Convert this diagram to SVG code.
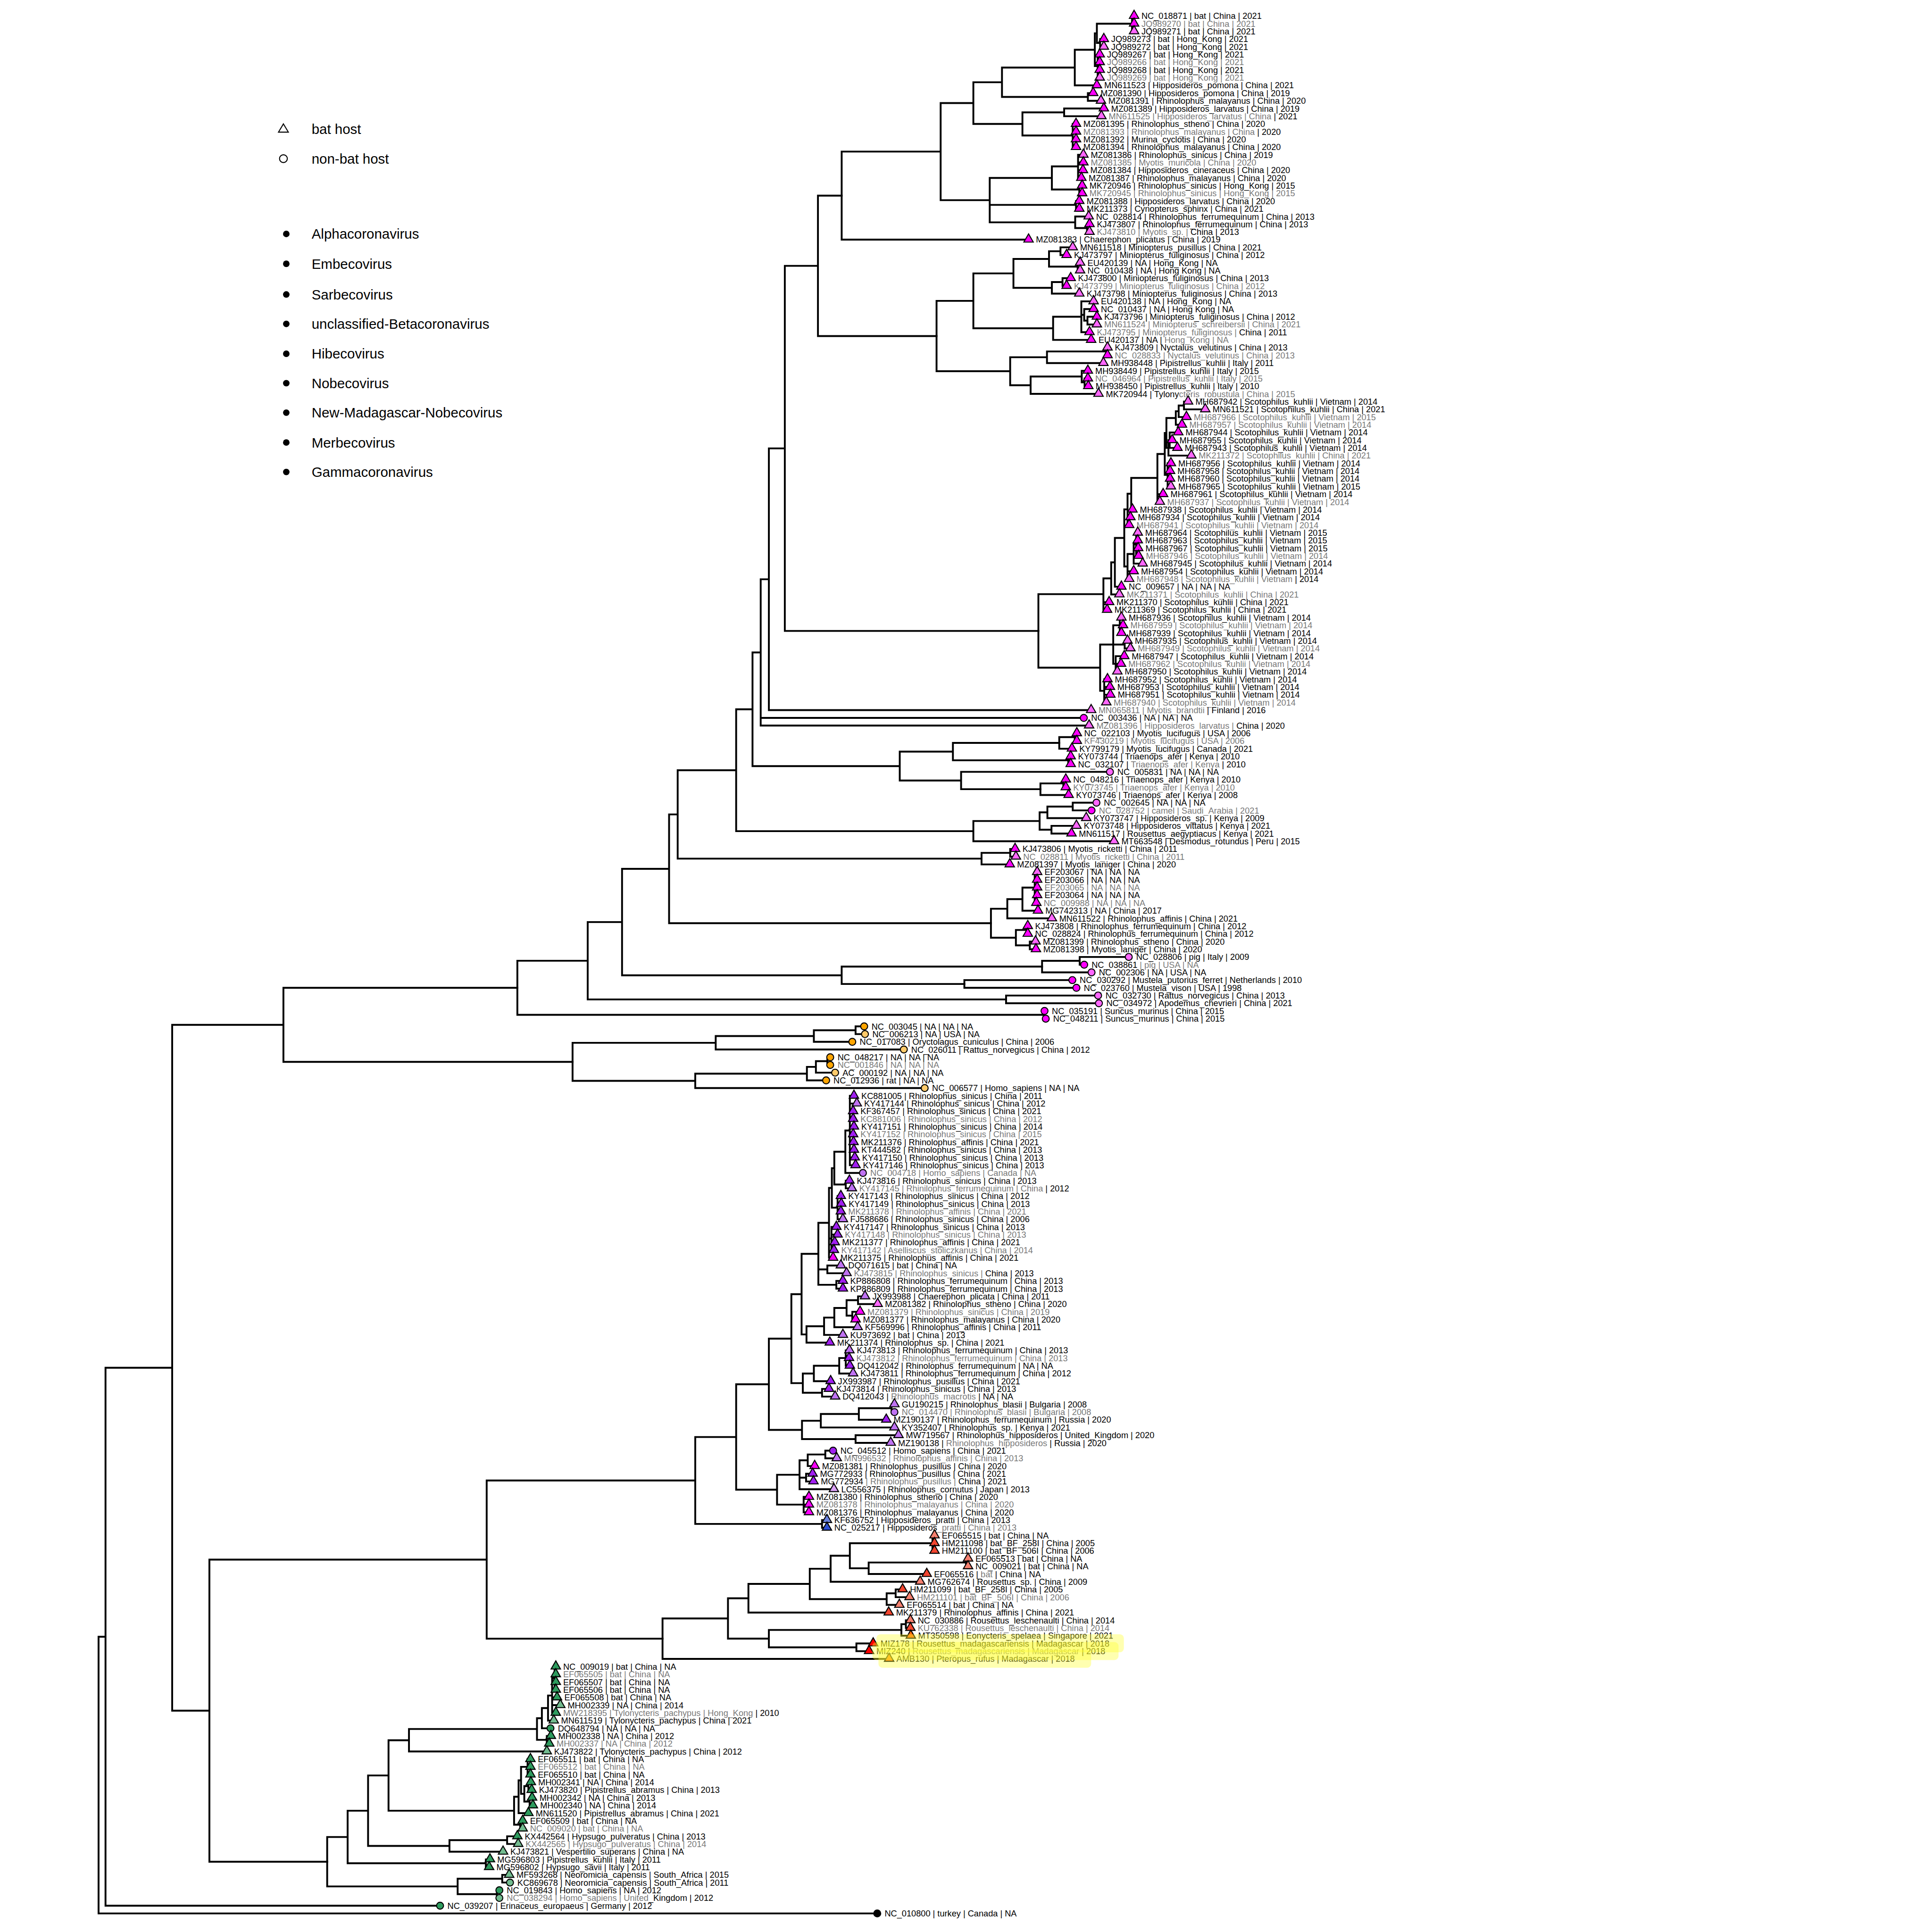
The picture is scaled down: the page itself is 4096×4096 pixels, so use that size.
<svg xmlns="http://www.w3.org/2000/svg" xmlns:xlink="http://www.w3.org/1999/xlink" width="4096" height="4096" viewBox="0 0 4096 4096">
<style>
.e{fill:none;stroke:#000;stroke-width:4.5;stroke-linecap:square}
.s{stroke:#000;stroke-width:2.5}
.a{fill:#f0f}.al{fill:#f6f}.b{fill:#a01ff0}.bl{fill:#bf72f2}.bx{fill:#d9a0f6}.o{fill:#ffa500}.ol{fill:#ffca6a}.h{fill:#2d4fd1}.hl{fill:#6a82dd}.r{fill:#f2452f}.rl{fill:#f5806f}.rr{fill:#f00}.ro{fill:#ff6a10}.d{fill:#2e9b5e}.dl{fill:#72bb8f}.k{fill:#000}
text{font-family:"Liberation Sans",Arial,sans-serif;font-size:21px;fill:#000}
.q,tspan.q{fill:#7a7a7a}
.lg text{font-size:34px}
.hi{fill:#ffff30;opacity:.38}
</style>
<defs>
<path id="T" d="M0,-14L11.5,6H-11.5Z"/>
<circle id="C" r="8.5"/>
</defs>
<rect width="4096" height="4096" fill="#fff"/>
<g transform="scale(0.86706)">
<g id="legend" class="lg">
<path d="M693,303L705,323H681Z" fill="none" stroke="#000" stroke-width="2.5"/>
<text x="762" y="328">bat host</text>
<circle cx="693" cy="388" r="9.5" fill="none" stroke="#000" stroke-width="2.5"/>
<text x="762" y="400">non-bat host</text>
<circle cx="700" cy="572" r="8"/><text x="762" y="584">Alphacoronavirus</text>
<circle cx="700" cy="645" r="8"/><text x="762" y="657">Embecovirus</text>
<circle cx="700" cy="720" r="8"/><text x="762" y="732">Sarbecovirus</text>
<circle cx="700" cy="792" r="8"/><text x="762" y="804">unclassified-Betacoronavirus</text>
<circle cx="700" cy="865" r="8"/><text x="762" y="877">Hibecovirus</text>
<circle cx="700" cy="937" r="8"/><text x="762" y="949">Nobecovirus</text>
<circle cx="700" cy="1009" r="8"/><text x="762" y="1021">New-Madagascar-Nobecovirus</text>
<circle cx="700" cy="1082" r="8"/><text x="762" y="1094">Merbecovirus</text>
<circle cx="700" cy="1154" r="8"/><text x="762" y="1166">Gammacoronavirus</text>
</g>
<g id="edges" class="e">
<path d="M2768 39V76.7M2768 39H2773M2768 57.9H2773M2768 76.7H2773M2690 95.6V114.4M2690 95.6H2699M2690 114.4H2699M2684 133.3V189.9M2684 133.3H2689M2684 152.2H2689M2684 171H2689M2684 189.9H2689M2682 57.9V105M2682 57.9H2768M2682 105H2690M2677 81.5V161.6M2677 81.5H2682M2677 161.6H2684M2628 121.6V208.7M2628 121.6H2677M2628 208.7H2682M2660 227.6V246.5M2660 227.6H2673M2660 246.5H2692M2602 265.3V284.2M2602 265.3H2699M2602 284.2H2693M2623 303V359.6M2623 303H2631M2623 321.9H2631M2623 340.8H2631M2623 359.6H2631M2636 378.5V435.1M2636 378.5H2649M2636 397.3H2649M2636 416.2H2649M2636 435.1H2644M2639 453.9V472.8M2639 453.9H2646M2639 472.8H2646M2572 406.8V463.4M2572 406.8H2636M2572 463.4H2639M2631 491.6V510.5M2631 491.6H2639M2631 510.5H2639M2658 548.2V567.1M2658 548.2H2664M2658 567.1H2664M2629 529.4V557.7M2629 529.4H2662M2629 557.7H2658M2450 165.2V237M2450 165.2H2628M2450 237H2660M2500 274.8V331.3M2500 274.8H2602M2500 331.3H2623M2380 201.1V303M2380 201.1H2450M2380 303H2500M2420 435.1V543.6M2420 435.1H2572M2420 501H2631M2420 543.6H2629M2300 252V489.4M2300 252H2380M2300 489.4H2420M2058 370.7V585.9M2058 370.7H2300M2058 585.9H2515"/>
<path d="M2593 604.8V623.7M2593 604.8H2623M2593 623.7H2608M2635 642.5V661.4M2635 642.5H2641M2635 661.4H2641M2565 614.3V652M2565 614.3H2593M2565 652H2635M2598 680.2V699.1M2598 680.2H2618M2598 699.1H2608M2572 689.7V718M2572 689.7H2598M2572 718H2639M2478 633.1V703.8M2478 633.1H2565M2478 703.8H2572M2659 774.5V793.4M2659 774.5H2682M2659 793.4H2682M2651 755.7V784M2651 755.7H2674M2651 784H2659M2644 736.8V812.3M2644 736.8H2674M2644 769.8H2651M2644 812.3H2664M2575 774.5V831.1M2575 774.5H2644M2575 831.1H2668M2706 850V868.8M2652 925.4V944.3M2652 925.4H2660M2652 944.3H2661M2645 906.6V934.9M2645 906.6H2660M2645 934.9H2652M2380 668.5V802.8M2380 668.5H2478M2380 802.8H2575M2560 859.4V887.7M2560 859.4H2706M2560 887.7H2698M2520 920.7V963.1M2520 920.7H2645M2520 963.1H2686M2470 873.5V941.9M2470 873.5H2560M2470 941.9H2520M2290 735.7V907.7M2290 735.7H2380M2290 907.7H2470"/>
<path d="M2895 982V1000.9M2895 982H2905M2895 1000.9H2947M2882 991.5V1019.7M2882 991.5H2895M2882 1019.7H2901M2875 1005.6V1038.6M2875 1005.6H2882M2875 1038.6H2890M2860 1057.4V1095.2M2860 1057.4H2881M2860 1076.3H2866M2860 1095.2H2879M2857 1076.3V1114M2857 1114H2913M2852 1022.1V1095.2M2852 1022.1H2875M2852 1095.2H2857M2855 1132.9V1189.5M2855 1132.9H2863M2855 1151.7H2861M2855 1170.6H2861M2855 1189.5H2863M2848 1058.7V1161.2M2848 1058.7H2852M2848 1161.2H2855M2830 1110V1227.2M2830 1110H2848M2830 1208.3H2844M2830 1227.2H2836M2766 1168.6V1246M2766 1168.6H2830M2766 1246H2769M2757 1207.3V1283.8M2757 1207.3H2766M2757 1264.9H2764M2757 1283.8H2761M2778 1302.6V1359.2M2778 1302.6H2782M2778 1321.5H2782M2778 1340.3H2783M2778 1359.2H2784M2772 1330.9V1378.1M2772 1330.9H2778M2772 1378.1H2794M2757 1354.5V1415.8M2757 1354.5H2772M2757 1396.9H2772M2757 1415.8H2761M2749 1245.5V1385.2M2749 1245.5H2757M2749 1385.2H2757M2726 1315.3V1434.6M2726 1315.3H2749M2726 1434.6H2742M2717 1375V1453.5M2717 1375H2726M2717 1453.5H2737M2698 1414.3V1491.2M2698 1414.3H2717M2698 1472.4H2712M2698 1491.2H2707M2738 1510.1V1547.8M2738 1510.1H2742M2738 1528.9H2746M2738 1547.8H2742M2750 1566.7V1585.5M2750 1566.7H2757M2750 1585.5H2764M2728 1604.4V1642.1M2728 1604.4H2749M2728 1623.2H2741M2728 1642.1H2732M2722 1528.9V1623.2M2722 1528.9H2738M2722 1576.1H2750M2722 1623.2H2728M2700 1661V1717.5M2700 1661H2708M2700 1679.8H2714M2700 1698.7H2715M2700 1717.5H2705M2690 1576V1689.2M2690 1576H2722M2690 1689.2H2700M2539 1452.8V1632.6M2539 1452.8H2698M2539 1632.6H2690"/>
<path d="M2628 1793V1811.8M2628 1793H2633M2628 1811.8H2633M2590 1802.4V1830.7M2590 1802.4H2628M2590 1830.7H2621M2612 1849.6V1868.4M2612 1849.6H2618M2612 1868.4H2618M2600 1906.1V1925M2600 1906.1H2606M2600 1925H2606M2544 1915.5V1943.9M2544 1915.5H2600M2544 1943.9H2613M2623 1962.7V1981.6M2623 1962.7H2681M2623 1981.6H2669M2561 1972.2V2000.4M2561 1972.2H2623M2561 2000.4H2656M2571 2019.3V2038.2M2571 2019.3H2632M2571 2038.2H2620M2542 1986.3V2028.7M2542 1986.3H2561M2542 2028.7H2571M2470 2075.9V2094.7M2470 2075.9H2482M2470 2094.7H2484M2530 2132.5V2207.9M2530 2132.5H2536M2530 2151.3H2536M2530 2170.2H2536M2530 2189H2536M2530 2207.9H2534M2500 2170.2V2226.8M2500 2170.2H2530M2500 2226.8H2538M2463 2198.5V2245.6M2463 2198.5H2500M2463 2245.6H2572M2510 2264.5V2283.3M2510 2264.5H2513M2510 2283.3H2513M2518 2302.2V2321.1M2518 2302.2H2532M2518 2321.1H2533M2484 2273.9V2311.6M2484 2273.9H2510M2484 2311.6H2518M2423 2222V2292.8M2423 2222H2463M2423 2292.8H2484M2640 2339.9V2358.8M2640 2339.9H2760M2640 2358.8H2651M2548 2349.4V2377.6M2548 2349.4H2640M2548 2377.6H2669M2358 2396.5V2415.4M2358 2396.5H2622M2358 2415.4H2632M2460 2434.2V2453.1M2460 2434.2H2685M2460 2453.1H2687M2552 2471.9V2490.8M2552 2471.9H2554M2552 2490.8H2557"/>
<path d="M2000 478.3V821.7M2000 478.3H2058M2000 821.7H2290M1919 650V1542.7M1919 650H2000M1919 1542.7H2539M1880 1096.4V1736.4M1880 1096.4H1919M1880 1736.4H2668M1860 1416.4V1774.1M1860 1416.4H1880M1860 1755.3H2650M1860 1774.1H2663M2330 1816.5V1859M2330 1816.5H2590M2330 1859H2612M2350 1887.3V1929.7M2350 1887.3H2714M2350 1929.7H2544M2200 1837.8V1908.5M2200 1837.8H2330M2200 1908.5H2350M1840 1595.3V1873.2M1840 1595.3H1860M1840 1873.2H2200M2380 2007.5V2057M2380 2007.5H2542M2380 2057H2724M1800 1734.3V2032.3M1800 1734.3H1840M1800 2032.3H2380M2400 2085.3V2113.6M2400 2085.3H2470M2400 2113.6H2469M1657 1883.3V2099.5M1657 1883.3H1800M1657 2099.5H2400M1636 1991.4V2257.4M1636 1991.4H1657M1636 2257.4H2423M2058 2363.5V2406M2058 2363.5H2548M2058 2406H2358M1521 2124.4V2384.8M1521 2124.4H1636M1521 2384.8H2058M1437 2254.6V2443.7M1437 2254.6H1521M1437 2443.7H2460M1265 2349.2V2481.4M1265 2349.2H1437M1265 2481.4H2552"/>
<path d="M2092 2509.7V2528.5M2092 2509.7H2113M2092 2528.5H2115M1990 2519.1V2547.4M1990 2519.1H2092M1990 2547.4H2084M2023 2585.1V2604M2023 2585.1H2030M2023 2604H2030M1995 2594.6V2622.8M1995 2594.6H2023M1995 2622.8H2042M1973 2608.7V2641.7M1973 2608.7H1995M1973 2641.7H2020M1750 2533.3V2566.2M1750 2533.3H1990M1750 2566.2H2210M1700 2625.2V2660.5M1700 2625.2H1973M1700 2660.5H2261M1400 2549.8V2642.9M1400 2549.8H1750M1400 2642.9H1700"/>
<path d="M2078 2679.4V2849.1M2078 2679.4H2088M2078 2698.3H2095M2078 2717.1H2086M2078 2736H2086M2078 2754.8H2088M2078 2773.7H2086M2078 2792.6H2087M2078 2811.4H2088M2078 2830.3H2090M2078 2849.1H2092M2067 2764.3V2868M2067 2764.3H2078M2067 2868H2110M2068 2886.9V2905.7M2068 2886.9H2077M2068 2905.7H2083M2040 2816.2V2896.3M2040 2816.2H2067M2040 2896.3H2068M2048 2924.6V2981.2M2048 2924.6H2056M2048 2943.4H2057M2048 2962.3H2056M2048 2981.2H2061M2034 2856.3V2952.9M2034 2856.3H2040M2034 2952.9H2048M2033 3000V3056.6M2033 3000H2045M2033 3018.9H2048M2033 3037.7H2041M2033 3056.6H2039M2027 2904.6V3075.5M2027 2904.6H2034M2027 3028.3H2033M2027 3075.5H2037M2023 3094.3V3113.2M2023 3094.3H2056M2023 3113.2H2070M2045 3132V3150.9M2045 3132H2061M2045 3150.9H2061M2001 2990V3141.5M2001 2990H2027M2001 3103.8H2023M2001 3141.5H2045M2098 3169.8V3188.6M2098 3169.8H2115M2098 3188.6H2146M2084 3207.5V3226.3M2084 3207.5H2103M2084 3226.3H2092M2070 3179.2V3216.9M2070 3179.2H2098M2070 3216.9H2084M2040 3198.1V3245.2M2040 3198.1H2070M2040 3245.2H2097M2015 3221.7V3264.1M2015 3221.7H2040M2015 3264.1H2061M1972 3242.9V3282.9M1972 3242.9H2015M1972 3282.9H2029M1960 3065.8V3262.9M1960 3065.8H2001M1960 3262.9H1972M2068 3301.8V3339.5M2068 3301.8H2077M2068 3320.6H2076M2068 3339.5H2078M2052 3320.6V3358.4M2052 3320.6H2068M2052 3358.4H2086M1990 3339.5V3377.2M1990 3339.5H2052M1990 3377.2H2031M2010 3396.1V3414.9M2010 3396.1H2027M2010 3414.9H2042M1963 3358.4V3405.5M1963 3358.4H1990M1963 3405.5H2010M1935 3164.4V3382M1935 3164.4H1960M1935 3382H1963M2180 3433.8V3452.7M2180 3433.8H2187M2180 3452.7H2187M2100 3443.3V3471.5M2100 3443.3H2180M2100 3471.5H2167M2007 3457.4V3490.4M2007 3457.4H2100M2007 3490.4H2187M2092 3509.2V3528.1M2092 3509.2H2197M2092 3528.1H2178M1961 3473.9V3518.7M1961 3473.9H2007M1961 3518.7H2092M2018 3547V3565.8M2018 3547H2037M2018 3565.8H2046M1975 3556.4V3584.7M1975 3556.4H2018M1975 3584.7H1992M1971 3603.5V3622.4M1971 3603.5H1987M1971 3622.4H1989M1955 3570.6V3641.3M1955 3570.6H1975M1955 3613H1971M1955 3641.3H2039M1965 3660.1V3697.8M1965 3660.1H1978M1965 3679H1978M1965 3697.8H1978M2010 3716.7V3735.6M2010 3716.7H2022M2010 3735.6H2022M1880 3273.2V3496.3M1880 3273.2H1935M1880 3496.3H1961M1900 3606V3679M1900 3606H1955M1900 3679H1965M1800 3384.8V3642.5M1800 3384.8H1880M1800 3642.5H1900M1700 3513.7V3726.2M1700 3513.7H1800M1700 3726.2H2010"/>
<path d="M2280 3754.4V3792.1M2280 3754.4H2285M2280 3773.3H2285M2280 3792.1H2285M2362 3811V3829.9M2362 3811H2367M2362 3829.9H2367M2124 3820.5V3848.7M2124 3820.5H2362M2124 3848.7H2266M2078 3773.3V3834.6M2078 3773.3H2280M2078 3834.6H2124M2031 3804V3867.6M2031 3804H2078M2031 3867.6H2250M2190 3886.4V3905.3M2190 3886.4H2207M2190 3905.3H2224M2168 3895.9V3924.2M2168 3895.9H2190M2168 3924.2H2199M1980 3835.8V3910M1980 3835.8H2031M1980 3910H2168M2215 3961.9V3980.7M2215 3961.9H2226M2215 3980.7H2226M2204 3971.3V3999.6M2204 3971.3H2215M2204 3999.6H2227M2094 4018.5V4037.3M2094 4018.5H2135M2094 4037.3H2125M1830 3872.9V3943M1830 3872.9H1980M1830 3943H2173M1880 3985.5V4027.9M1880 3985.5H2204M1880 4027.9H2094M1780 3908V4006.7M1780 3908H1830M1780 4006.7H1880M1620 3957.4V4056.2M1620 3957.4H1780M1620 4056.2H2174"/>
<path d="M1356 4075V4131.6M1356 4075H1359M1356 4131.6H1359M1350 4103.3V4188.2M1350 4103.3H1356M1350 4150.5H1362M1350 4169.3H1370M1350 4188.2H1359M1340 4145.8V4207.1M1340 4145.8H1350M1340 4207.1H1354M1325 4176.5V4225.9M1325 4176.5H1340M1325 4225.9H1346M1337 4244.8V4263.6M1337 4244.8H1347M1337 4263.6H1343M1313 4201.2V4254.2M1313 4201.2H1325M1313 4254.2H1337M1290 4301.4V4339.1M1290 4301.4H1297M1290 4320.2H1297M1290 4339.1H1297M1292 4357.9V4376.8M1292 4357.9H1298M1292 4376.8H1300M1295 4395.7V4414.5M1295 4395.7H1301M1295 4414.5H1303M1282 4367.4V4405.1M1282 4367.4H1292M1282 4405.1H1295M1274 4320.2V4386.2M1274 4320.2H1290M1274 4386.2H1282M1268 4353.2V4433.4M1268 4353.2H1274M1268 4433.4H1292M1272 4452.2V4471.1M1272 4452.2H1278M1272 4471.1H1278M1257 4393.3V4461.7M1257 4393.3H1268M1257 4461.7H1272M1240 4490V4508.8M1240 4490H1265M1240 4508.8H1267M1099 4499.4V4527.7M1099 4499.4H1240M1099 4527.7H1230M1188 4546.5V4565.4M1188 4546.5H1198M1188 4565.4H1196M1228 4584.3V4603.1M1228 4584.3H1245M1228 4603.1H1247M1215 4622V4640.8M1215 4622H1221M1215 4640.8H1221M1119 4593.7V4631.4M1119 4593.7H1228M1119 4631.4H1215M1000 4227.7V4282.5M1000 4227.7H1313M1000 4282.5H1337M950 4255.1V4427.5M950 4255.1H1000M950 4427.5H1257M900 4341.3V4513.6M900 4341.3H950M900 4513.6H1099M850 4427.5V4556M850 4427.5H900M850 4556H1188M800 4491.8V4612.6M800 4491.8H850M800 4612.6H1119"/>
<path d="M1190 3620V4006.8M1190 3620H1700M1190 4006.8H1620M512 3813.4V4552.2M512 3813.4H1190M512 4552.2H800M693 2415.3V2596.4M693 2415.3H1265M693 2596.4H1400M421 2505.9V4182.8M421 2505.9H693M421 4182.8H512M258 3344.4V4659.7M258 3344.4H421M258 4659.7H1076M241 4002V4678.6M241 4002H258M241 4678.6H2145"/>
</g>
<g id="tips">
<g id="t0"><use href="#T" x="2773" y="39" class="s a"/><text x="2791" y="46.5">NC_018871 | bat | China | 2021</text></g>
<g id="t1"><use href="#T" x="2773" y="57.9" class="s a"/><text x="2791" y="65.4" class="q">JQ989270 | bat | China | 2021</text></g>
<g id="t2"><use href="#T" x="2773" y="76.7" class="s al"/><text x="2791" y="84.2">JQ989271 | bat | China | 2021</text></g>
<g id="t3"><use href="#T" x="2699" y="95.6" class="s a"/><text x="2717" y="103.1">JQ989273 | bat | Hong_Kong | 2021</text></g>
<g id="t4"><use href="#T" x="2699" y="114.4" class="s al"/><text x="2717" y="121.9">JQ989272 | bat | Hong_Kong | 2021</text></g>
<g id="t5"><use href="#T" x="2689" y="133.3" class="s a"/><text x="2707" y="140.8">JQ989267 | bat | Hong_Kong | 2021</text></g>
<g id="t6"><use href="#T" x="2689" y="152.2" class="s a"/><text x="2707" y="159.7" class="q">JQ989266 | bat | Hong_Kong | 2021</text></g>
<g id="t7"><use href="#T" x="2689" y="171" class="s a"/><text x="2707" y="178.5">JQ989268 | bat | Hong_Kong | 2021</text></g>
<g id="t8"><use href="#T" x="2689" y="189.9" class="s al"/><text x="2707" y="197.4" class="q">JQ989269 | bat | Hong_Kong | 2021</text></g>
<g id="t9"><use href="#T" x="2682" y="208.7" class="s a"/><text x="2700" y="216.2">MN611523 | Hipposideros_pomona | China | 2021</text></g>
<g id="t10"><use href="#T" x="2673" y="227.6" class="s a"/><text x="2691" y="235.1">MZ081390 | Hipposideros_pomona | China | 2019</text></g>
<g id="t11"><use href="#T" x="2692" y="246.5" class="s al"/><text x="2710" y="254">MZ081391 | Rhinolophus_malayanus | China | 2020</text></g>
<g id="t12"><use href="#T" x="2699" y="265.3" class="s a"/><text x="2717" y="272.8">MZ081389 | Hipposideros_larvatus | China | 2019</text></g>
<g id="t13"><use href="#T" x="2693" y="284.2" class="s al"/><text x="2711" y="291.7"><tspan class="q">MN611525 | Hipposideros_larvatus | China</tspan> | 2021</text></g>
<g id="t14"><use href="#T" x="2631" y="303" class="s a"/><text x="2649" y="310.5">MZ081395 | Rhinolophus_stheno | China | 2020</text></g>
<g id="t15"><use href="#T" x="2631" y="321.9" class="s a"/><text x="2649" y="329.4"><tspan class="q">MZ081393 | Rhinolophus_malayanus | China</tspan> | 2020</text></g>
<g id="t16"><use href="#T" x="2631" y="340.8" class="s a"/><text x="2649" y="348.3">MZ081392 | Murina_cyclotis | China | 2020</text></g>
<g id="t17"><use href="#T" x="2631" y="359.6" class="s a"/><text x="2649" y="367.1">MZ081394 | Rhinolophus_malayanus | China | 2020</text></g>
<g id="t18"><use href="#T" x="2649" y="378.5" class="s al"/><text x="2667" y="386">MZ081386 | Rhinolophus_sinicus | China | 2019</text></g>
<g id="t19"><use href="#T" x="2649" y="397.3" class="s a"/><text x="2667" y="404.8" class="q">MZ081385 | Myotis_muricola | China | 2020</text></g>
<g id="t20"><use href="#T" x="2648" y="416.2" class="s a"/><text x="2666" y="423.7">MZ081384 | Hipposideros_cineraceus | China | 2020</text></g>
<g id="t21"><use href="#T" x="2644" y="435.1" class="s a"/><text x="2662" y="442.6">MZ081387 | Rhinolophus_malayanus | China | 2020</text></g>
<g id="t22"><use href="#T" x="2646" y="453.9" class="s a"/><text x="2664" y="461.4">MK720946 | Rhinolophus_sinicus | Hong_Kong | 2015</text></g>
<g id="t23"><use href="#T" x="2646" y="472.8" class="s a"/><text x="2664" y="480.3" class="q">MK720945 | Rhinolophus_sinicus | Hong_Kong | 2015</text></g>
<g id="t24"><use href="#T" x="2639" y="491.6" class="s a"/><text x="2657" y="499.1">MZ081388 | Hipposideros_larvatus | China | 2020</text></g>
<g id="t25"><use href="#T" x="2639" y="510.5" class="s a"/><text x="2657" y="518">MK211373 | Cynopterus_sphinx | China | 2021</text></g>
<g id="t26"><use href="#T" x="2662" y="529.4" class="s al"/><text x="2680" y="536.9">NC_028814 | Rhinolophus_ferrumequinum | China | 2013</text></g>
<g id="t27"><use href="#T" x="2664" y="548.2" class="s a"/><text x="2682" y="555.7">KJ473807 | Rhinolophus_ferrumequinum | China | 2013</text></g>
<g id="t28"><use href="#T" x="2664" y="567.1" class="s al"/><text x="2682" y="574.6"><tspan class="q">KJ473810 | Myotis_sp. |</tspan> China | 2013</text></g>
<g id="t29"><use href="#T" x="2515" y="585.9" class="s a"/><text x="2533" y="593.4">MZ081383 | Chaerephon_plicatus | China | 2019</text></g>
<g id="t30"><use href="#T" x="2623" y="604.8" class="s al"/><text x="2641" y="612.3">MN611518 | Miniopterus_pusillus | China | 2021</text></g>
<g id="t31"><use href="#T" x="2608" y="623.7" class="s a"/><text x="2626" y="631.2">KJ473797 | Miniopterus_fuliginosus | China | 2012</text></g>
<g id="t32"><use href="#T" x="2641" y="642.5" class="s al"/><text x="2659" y="650">EU420139 | NA | Hong_Kong | NA</text></g>
<g id="t33"><use href="#T" x="2641" y="661.4" class="s al"/><text x="2659" y="668.9">NC_010438 | NA | Hong Kong | NA</text></g>
<g id="t34"><use href="#T" x="2618" y="680.2" class="s a"/><text x="2636" y="687.7">KJ473800 | Miniopterus_fuliginosus | China | 2013</text></g>
<g id="t35"><use href="#T" x="2608" y="699.1" class="s a"/><text x="2626" y="706.6" class="q">KJ473799 | Miniopterus_fuliginosus | China | 2012</text></g>
<g id="t36"><use href="#T" x="2639" y="718" class="s al"/><text x="2657" y="725.5">KJ473798 | Miniopterus_fuliginosus | China | 2013</text></g>
<g id="t37"><use href="#T" x="2674" y="736.8" class="s al"/><text x="2692" y="744.3">EU420138 | NA | Hong_Kong | NA</text></g>
<g id="t38"><use href="#T" x="2674" y="755.7" class="s a"/><text x="2692" y="763.2">NC_010437 | NA | Hong Kong | NA</text></g>
<g id="t39"><use href="#T" x="2682" y="774.5" class="s a"/><text x="2700" y="782">KJ473796 | Miniopterus_fuliginosus | China | 2012</text></g>
<g id="t40"><use href="#T" x="2682" y="793.4" class="s al"/><text x="2700" y="800.9" class="q">MN611524 | Miniopterus_schreibersii | China | 2021</text></g>
<g id="t41"><use href="#T" x="2664" y="812.3" class="s a"/><text x="2682" y="819.8"><tspan class="q">KJ473795 | Miniopterus_fuliginosus |</tspan> China | 2011</text></g>
<g id="t42"><use href="#T" x="2668" y="831.1" class="s a"/><text x="2686" y="838.6">EU420137 | NA | <tspan class="q">Hong_Kong | NA</tspan></text></g>
<g id="t43"><use href="#T" x="2708" y="850" class="s al"/><text x="2726" y="857.5">KJ473809 | Nyctalus_velutinus | China | 2013</text></g>
<g id="t44"><use href="#T" x="2708" y="868.8" class="s a"/><text x="2726" y="876.3" class="q">NC_028833 | Nyctalus_velutinus | China | 2013</text></g>
<g id="t45"><use href="#T" x="2698" y="887.7" class="s al"/><text x="2716" y="895.2">MH938448 | Pipistrellus_kuhlii | Italy | 2011</text></g>
<g id="t46"><use href="#T" x="2660" y="906.6" class="s a"/><text x="2678" y="914.1">MH938449 | Pipistrellus_kuhlii | Italy | 2015</text></g>
<g id="t47"><use href="#T" x="2660" y="925.4" class="s a"/><text x="2678" y="932.9" class="q">NC_046964 | Pipistrellus_kuhlii | Italy | 2015</text></g>
<g id="t48"><use href="#T" x="2661" y="944.3" class="s a"/><text x="2679" y="951.8">MH938450 | Pipistrellus_kuhlii | Italy | 2010</text></g>
<g id="t49"><use href="#T" x="2686" y="963.1" class="s al"/><text x="2704" y="970.6">MK720944 | Tylony<tspan class="q">cteris_robustula | China | 2015</tspan></text></g>
<g id="t50"><use href="#T" x="2905" y="982" class="s al"/><text x="2923" y="989.5">MH687942 | Scotophilus_kuhlii | Vietnam | 2014</text></g>
<g id="t51"><use href="#T" x="2947" y="1000.9" class="s al"/><text x="2965" y="1008.4">MN611521 | Scotophilus_kuhlii | China | 2021</text></g>
<g id="t52"><use href="#T" x="2901" y="1019.7" class="s a"/><text x="2919" y="1027.2" class="q">MH687966 | Scotophilus_kuhlii | Vietnam | 2015</text></g>
<g id="t53"><use href="#T" x="2890" y="1038.6" class="s a"/><text x="2908" y="1046.1" class="q">MH687957 | Scotophilus_kuhlii | Vietnam | 2014</text></g>
<g id="t54"><use href="#T" x="2881" y="1057.4" class="s a"/><text x="2899" y="1064.9">MH687944 | Scotophilus_kuhlii | Vietnam | 2014</text></g>
<g id="t55"><use href="#T" x="2866" y="1076.3" class="s a"/><text x="2884" y="1083.8">MH687955 | Scotophilus_kuhlii | Vietnam | 2014</text></g>
<g id="t56"><use href="#T" x="2879" y="1095.2" class="s a"/><text x="2897" y="1102.7">MH687943 | Scotophilus_kuhlii | Vietnam | 2014</text></g>
<g id="t57"><use href="#T" x="2913" y="1114" class="s al"/><text x="2931" y="1121.5" class="q">MK211372 | Scotophilus_kuhlii | China | 2021</text></g>
<g id="t58"><use href="#T" x="2863" y="1132.9" class="s a"/><text x="2881" y="1140.4">MH687956 | Scotophilus_kuhlii | Vietnam | 2014</text></g>
<g id="t59"><use href="#T" x="2861" y="1151.7" class="s a"/><text x="2879" y="1159.2">MH687958 | Scotophilus_kuhlii | Vietnam | 2014</text></g>
<g id="t60"><use href="#T" x="2861" y="1170.6" class="s a"/><text x="2879" y="1178.1">MH687960 | Scotophilus_kuhlii | Vietnam | 2014</text></g>
<g id="t61"><use href="#T" x="2863" y="1189.5" class="s al"/><text x="2881" y="1197">MH687965 | Scotophilus_kuhlii | Vietnam | 2015</text></g>
<g id="t62"><use href="#T" x="2844" y="1208.3" class="s a"/><text x="2862" y="1215.8">MH687961 | Scotophilus_kuhlii | Vietnam | 2014</text></g>
<g id="t63"><use href="#T" x="2836" y="1227.2" class="s al"/><text x="2854" y="1234.7" class="q">MH687937 | Scotophilus_kuhlii | Vietnam | 2014</text></g>
<g id="t64"><use href="#T" x="2769" y="1246" class="s a"/><text x="2787" y="1253.5">MH687938 | Scotophilus_kuhlii | Vietnam | 2014</text></g>
<g id="t65"><use href="#T" x="2764" y="1264.9" class="s a"/><text x="2782" y="1272.4">MH687934 | Scotophilus_kuhlii | Vietnam | 2014</text></g>
<g id="t66"><use href="#T" x="2761" y="1283.8" class="s a"/><text x="2779" y="1291.3" class="q">MH687941 | Scotophilus_kuhlii | Vietnam | 2014</text></g>
<g id="t67"><use href="#T" x="2782" y="1302.6" class="s al"/><text x="2800" y="1310.1">MH687964 | Scotophilus_kuhlii | Vietnam | 2015</text></g>
<g id="t68"><use href="#T" x="2782" y="1321.5" class="s a"/><text x="2800" y="1329">MH687963 | Scotophilus_kuhlii | Vietnam | 2015</text></g>
<g id="t69"><use href="#T" x="2783" y="1340.3" class="s a"/><text x="2801" y="1347.8">MH687967 | Scotophilus_kuhlii | Vietnam | 2015</text></g>
<g id="t70"><use href="#T" x="2784" y="1359.2" class="s a"/><text x="2802" y="1366.7" class="q">MH687946 | Scotophilus_kuhlii | Vietnam | 2014</text></g>
<g id="t71"><use href="#T" x="2794" y="1378.1" class="s al"/><text x="2812" y="1385.6">MH687945 | Scotophilus_kuhlii | Vietnam | 2014</text></g>
<g id="t72"><use href="#T" x="2772" y="1396.9" class="s a"/><text x="2790" y="1404.4">MH687954 | Scotophilus_kuhlii | Vietnam | 2014</text></g>
<g id="t73"><use href="#T" x="2761" y="1415.8" class="s al"/><text x="2779" y="1423.3"><tspan class="q">MH687948 | Scotophilus_kuhlii | Vietnam</tspan> | 2014</text></g>
<g id="t74"><use href="#T" x="2742" y="1434.6" class="s a"/><text x="2760" y="1442.1">NC_009657 | NA | NA | NA</text></g>
<g id="t75"><use href="#T" x="2737" y="1453.5" class="s al"/><text x="2755" y="1461" class="q">MK211371 | Scotophilus_kuhlii | China | 2021</text></g>
<g id="t76"><use href="#T" x="2712" y="1472.4" class="s a"/><text x="2730" y="1479.9">MK211370 | Scotophilus_kuhlii | China | 2021</text></g>
<g id="t77"><use href="#T" x="2707" y="1491.2" class="s a"/><text x="2725" y="1498.7">MK211369 | Scotophilus_kuhlii | China | 2021</text></g>
<g id="t78"><use href="#T" x="2742" y="1510.1" class="s al"/><text x="2760" y="1517.6">MH687936 | Scotophilus_kuhlii | Vietnam | 2014</text></g>
<g id="t79"><use href="#T" x="2746" y="1528.9" class="s a"/><text x="2764" y="1536.4" class="q">MH687959 | Scotophilus_kuhlii | Vietnam | 2014</text></g>
<g id="t80"><use href="#T" x="2742" y="1547.8" class="s a"/><text x="2760" y="1555.3">MH687939 | Scotophilus_kuhlii | Vietnam | 2014</text></g>
<g id="t81"><use href="#T" x="2757" y="1566.7" class="s al"/><text x="2775" y="1574.2">MH687935 | Scotophilus_kuhlii | Vietnam | 2014</text></g>
<g id="t82"><use href="#T" x="2764" y="1585.5" class="s al"/><text x="2782" y="1593" class="q">MH687949 | Scotophilus_kuhlii | Vietnam | 2014</text></g>
<g id="t83"><use href="#T" x="2749" y="1604.4" class="s a"/><text x="2767" y="1611.9">MH687947 | Scotophilus_kuhlii | Vietnam | 2014</text></g>
<g id="t84"><use href="#T" x="2741" y="1623.2" class="s a"/><text x="2759" y="1630.7" class="q">MH687962 | Scotophilus_kuhlii | Vietnam | 2014</text></g>
<g id="t85"><use href="#T" x="2732" y="1642.1" class="s al"/><text x="2750" y="1649.6">MH687950 | Scotophilus_kuhlii | Vietnam | 2014</text></g>
<g id="t86"><use href="#T" x="2708" y="1661" class="s a"/><text x="2726" y="1668.5">MH687952 | Scotophilus_kuhlii | Vietnam | 2014</text></g>
<g id="t87"><use href="#T" x="2714" y="1679.8" class="s a"/><text x="2732" y="1687.3">MH687953 | Scotophilus_kuhlii | Vietnam | 2014</text></g>
<g id="t88"><use href="#T" x="2715" y="1698.7" class="s a"/><text x="2733" y="1706.2">MH687951 | Scotophilus_kuhlii | Vietnam | 2014</text></g>
<g id="t89"><use href="#T" x="2705" y="1717.5" class="s al"/><text x="2723" y="1725" class="q">MH687940 | Scotophilus_kuhlii | Vietnam | 2014</text></g>
<g id="t90"><use href="#T" x="2668" y="1736.4" class="s al"/><text x="2686" y="1743.9"><tspan class="q">MN065811 | Myotis_brandtii</tspan> | Finland | 2016</text></g>
<g id="t91"><use href="#C" x="2650" y="1755.3" class="s a"/><text x="2668" y="1762.8">NC_003436 | NA | NA | NA</text></g>
<g id="t92"><use href="#T" x="2663" y="1774.1" class="s al"/><text x="2681" y="1781.6"><tspan class="q">MZ081396 | Hipposideros_larvatus |</tspan> China | 2020</text></g>
<g id="t93"><use href="#T" x="2633" y="1793" class="s a"/><text x="2651" y="1800.5">NC_022103 | Myotis_lucifugus | USA | 2006</text></g>
<g id="t94"><use href="#T" x="2633" y="1811.8" class="s a"/><text x="2651" y="1819.3" class="q">KF430219 | Myotis_lucifugus | USA | 2006</text></g>
<g id="t95"><use href="#T" x="2621" y="1830.7" class="s a"/><text x="2639" y="1838.2">KY799179 | Myotis_lucifugus | Canada | 2021</text></g>
<g id="t96"><use href="#T" x="2618" y="1849.6" class="s a"/><text x="2636" y="1857.1">KY073744 | Triaenops_afer | Kenya | 2010</text></g>
<g id="t97"><use href="#T" x="2618" y="1868.4" class="s a"/><text x="2636" y="1875.9">NC_032107 | <tspan class="q">Triaenops_afer | Kenya</tspan> | 2010</text></g>
<g id="t98"><use href="#C" x="2714" y="1887.3" class="s al"/><text x="2732" y="1894.8">NC_005831 | NA | NA | NA</text></g>
<g id="t99"><use href="#T" x="2606" y="1906.1" class="s a"/><text x="2624" y="1913.6">NC_048216 | Triaenops_afer | Kenya | 2010</text></g>
<g id="t100"><use href="#T" x="2606" y="1925" class="s a"/><text x="2624" y="1932.5" class="q">KY073745 | Triaenops_afer | Kenya | 2010</text></g>
<g id="t101"><use href="#T" x="2613" y="1943.9" class="s a"/><text x="2631" y="1951.4">KY073746 | Triaenops_afer | Kenya | 2008</text></g>
<g id="t102"><use href="#C" x="2681" y="1962.7" class="s al"/><text x="2699" y="1970.2">NC_002645 | NA | NA | NA</text></g>
<g id="t103"><use href="#C" x="2669" y="1981.6" class="s a"/><text x="2687" y="1989.1" class="q">NC_028752 | camel | Saudi_Arabia | 2021</text></g>
<g id="t104"><use href="#T" x="2656" y="2000.4" class="s al"/><text x="2674" y="2007.9">KY073747 | Hipposideros_sp. | Kenya | 2009</text></g>
<g id="t105"><use href="#T" x="2632" y="2019.3" class="s al"/><text x="2650" y="2026.8">KY073748 | Hipposideros_vittatus | Kenya | 2021</text></g>
<g id="t106"><use href="#T" x="2620" y="2038.2" class="s a"/><text x="2638" y="2045.7">MN611517 | Rousettus_aegyptiacus | Kenya | 2021</text></g>
<g id="t107"><use href="#T" x="2724" y="2057" class="s al"/><text x="2742" y="2064.5">MT663548 | Desmodus_rotundus | Peru | 2015</text></g>
<g id="t108"><use href="#T" x="2482" y="2075.9" class="s a"/><text x="2500" y="2083.4">KJ473806 | Myotis_ricketti | China | 2011</text></g>
<g id="t109"><use href="#T" x="2484" y="2094.7" class="s al"/><text x="2502" y="2102.2" class="q">NC_028811 | Myotis_ricketti | China | 2011</text></g>
<g id="t110"><use href="#T" x="2469" y="2113.6" class="s a"/><text x="2487" y="2121.1">MZ081397 | Myotis_laniger | China | 2020</text></g>
<g id="t111"><use href="#T" x="2536" y="2132.5" class="s al"/><text x="2554" y="2140">EF203067 | NA | NA | NA</text></g>
<g id="t112"><use href="#T" x="2536" y="2151.3" class="s a"/><text x="2554" y="2158.8">EF203066 | NA | NA | NA</text></g>
<g id="t113"><use href="#T" x="2536" y="2170.2" class="s a"/><text x="2554" y="2177.7" class="q">EF203065 | NA | NA | NA</text></g>
<g id="t114"><use href="#T" x="2536" y="2189" class="s a"/><text x="2554" y="2196.5">EF203064 | NA | NA | NA</text></g>
<g id="t115"><use href="#T" x="2534" y="2207.9" class="s a"/><text x="2552" y="2215.4" class="q">NC_009988 | NA | NA | NA</text></g>
<g id="t116"><use href="#T" x="2538" y="2226.8" class="s a"/><text x="2556" y="2234.3">MG742313 | NA | China | 2017</text></g>
<g id="t117"><use href="#T" x="2572" y="2245.6" class="s al"/><text x="2590" y="2253.1">MN611522 | Rhinolophus_affinis | China | 2021</text></g>
<g id="t118"><use href="#T" x="2513" y="2264.5" class="s a"/><text x="2531" y="2272">KJ473808 | Rhinolophus_ferrumequinum | China | 2012</text></g>
<g id="t119"><use href="#T" x="2513" y="2283.3" class="s a"/><text x="2531" y="2290.8">NC_028824 | Rhinolophus_ferrumequinum | China | 2012</text></g>
<g id="t120"><use href="#T" x="2532" y="2302.2" class="s al"/><text x="2550" y="2309.7">MZ081399 | Rhinolophus_stheno | China | 2020</text></g>
<g id="t121"><use href="#T" x="2533" y="2321.1" class="s a"/><text x="2551" y="2328.6">MZ081398 | Myotis_laniger | China | 2020</text></g>
<g id="t122"><use href="#C" x="2760" y="2339.9" class="s al"/><text x="2778" y="2347.4">NC_028806 | pig | Italy | 2009</text></g>
<g id="t123"><use href="#C" x="2651" y="2358.8" class="s a"/><text x="2669" y="2366.3">NC_038861 <tspan class="q">| pig | USA | NA</tspan></text></g>
<g id="t124"><use href="#C" x="2669" y="2377.6" class="s al"/><text x="2687" y="2385.1">NC_002306 | NA | USA | NA</text></g>
<g id="t125"><use href="#C" x="2622" y="2396.5" class="s a"/><text x="2640" y="2404">NC_030292 | Mustela_putorius_ferret | Netherlands | 2010</text></g>
<g id="t126"><use href="#C" x="2632" y="2415.4" class="s a"/><text x="2650" y="2422.9">NC_023760 | Mustela_vison | USA | 1998</text></g>
<g id="t127"><use href="#C" x="2685" y="2434.2" class="s al"/><text x="2703" y="2441.7">NC_032730 | Rattus_norvegicus | China | 2013</text></g>
<g id="t128"><use href="#C" x="2687" y="2453.1" class="s al"/><text x="2705" y="2460.6">NC_034972 | Apodemus_chevrieri | China | 2021</text></g>
<g id="t129"><use href="#C" x="2554" y="2471.9" class="s a"/><text x="2572" y="2479.4">NC_035191 | Suncus_murinus | China | 2015</text></g>
<g id="t130"><use href="#C" x="2557" y="2490.8" class="s a"/><text x="2575" y="2498.3">NC_048211 | Suncus_murinus | China | 2015</text></g>
<g id="t131"><use href="#C" x="2113" y="2509.7" class="s o"/><text x="2131" y="2517.2">NC_003045 | NA | NA | NA</text></g>
<g id="t132"><use href="#C" x="2115" y="2528.5" class="s ol"/><text x="2133" y="2536">NC_006213 | NA | USA | NA</text></g>
<g id="t133"><use href="#C" x="2084" y="2547.4" class="s o"/><text x="2102" y="2554.9">NC_017083 | Oryctolagus_cuniculus | China | 2006</text></g>
<g id="t134"><use href="#C" x="2210" y="2566.2" class="s ol"/><text x="2228" y="2573.7">NC_026011 | Rattus_norvegicus | China | 2012</text></g>
<g id="t135"><use href="#C" x="2030" y="2585.1" class="s o"/><text x="2048" y="2592.6">NC_048217 | NA | NA | NA</text></g>
<g id="t136"><use href="#C" x="2030" y="2604" class="s o"/><text x="2048" y="2611.5" class="q">NC_001846 | NA | NA | NA</text></g>
<g id="t137"><use href="#C" x="2042" y="2622.8" class="s ol"/><text x="2060" y="2630.3">AC_000192 | NA | NA | NA</text></g>
<g id="t138"><use href="#C" x="2020" y="2641.7" class="s o"/><text x="2038" y="2649.2">NC_012936 | rat | NA | NA</text></g>
<g id="t139"><use href="#C" x="2261" y="2660.5" class="s ol"/><text x="2279" y="2668">NC_006577 | Homo_sapiens | NA | NA</text></g>
<g id="t140"><use href="#T" x="2088" y="2679.4" class="s b"/><text x="2106" y="2686.9">KC881005 | Rhinolophus_sinicus | China | 2011</text></g>
<g id="t141"><use href="#T" x="2095" y="2698.3" class="s bl"/><text x="2113" y="2705.8">KY417144 | Rhinolophus_sinicus | China | 2012</text></g>
<g id="t142"><use href="#T" x="2086" y="2717.1" class="s b"/><text x="2104" y="2724.6">KF367457 | Rhinolophus_sinicus | China | 2021</text></g>
<g id="t143"><use href="#T" x="2086" y="2736" class="s b"/><text x="2104" y="2743.5" class="q">KC881006 | Rhinolophus_sinicus | China | 2012</text></g>
<g id="t144"><use href="#T" x="2088" y="2754.8" class="s b"/><text x="2106" y="2762.3">KY417151 | Rhinolophus_sinicus | China | 2014</text></g>
<g id="t145"><use href="#T" x="2086" y="2773.7" class="s b"/><text x="2104" y="2781.2" class="q">KY417152 | Rhinolophus_sinicus | China | 2015</text></g>
<g id="t146"><use href="#T" x="2087" y="2792.6" class="s b"/><text x="2105" y="2800.1">MK211376 | Rhinolophus_affinis | China | 2021</text></g>
<g id="t147"><use href="#T" x="2088" y="2811.4" class="s b"/><text x="2106" y="2818.9">KT444582 | Rhinolophus_sinicus | China | 2013</text></g>
<g id="t148"><use href="#T" x="2090" y="2830.3" class="s b"/><text x="2108" y="2837.8">KY417150 | Rhinolophus_sinicus | China | 2013</text></g>
<g id="t149"><use href="#T" x="2092" y="2849.1" class="s b"/><text x="2110" y="2856.6">KY417146 | Rhinolophus_sinicus | China | 2013</text></g>
<g id="t150"><use href="#C" x="2110" y="2868" class="s bl"/><text x="2128" y="2875.5" class="q">NC_004718 | Homo_sapiens | Canada | NA</text></g>
<g id="t151"><use href="#T" x="2077" y="2886.9" class="s b"/><text x="2095" y="2894.4">KJ473816 | Rhinolophus_sinicus | China | 2013</text></g>
<g id="t152"><use href="#T" x="2083" y="2905.7" class="s bl"/><text x="2101" y="2913.2"><tspan class="q">KY417145 | Rhinilophus_ferrumequinum | China</tspan> | 2012</text></g>
<g id="t153"><use href="#T" x="2056" y="2924.6" class="s b"/><text x="2074" y="2932.1">KY417143 | Rhinolophus_sinicus | China | 2012</text></g>
<g id="t154"><use href="#T" x="2057" y="2943.4" class="s b"/><text x="2075" y="2950.9">KY417149 | Rhinolophus_sinicus | China | 2013</text></g>
<g id="t155"><use href="#T" x="2056" y="2962.3" class="s b"/><text x="2074" y="2969.8" class="q">MK211378 | Rhinolophus_affinis | China | 2021</text></g>
<g id="t156"><use href="#T" x="2061" y="2981.2" class="s bl"/><text x="2079" y="2988.7">FJ588686 | Rhinolophus_sinicus | China | 2006</text></g>
<g id="t157"><use href="#T" x="2045" y="3000" class="s b"/><text x="2063" y="3007.5">KY417147 | Rhinolophus_sinicus | China | 2013</text></g>
<g id="t158"><use href="#T" x="2048" y="3018.9" class="s b"/><text x="2066" y="3026.4" class="q">KY417148 | Rhinolophus_sinicus | China | 2013</text></g>
<g id="t159"><use href="#T" x="2041" y="3037.7" class="s b"/><text x="2059" y="3045.2">MK211377 | Rhinolophus_affinis | China | 2021</text></g>
<g id="t160"><use href="#T" x="2039" y="3056.6" class="s b"/><text x="2057" y="3064.1" class="q">KY417142 | Aselliscus_stoliczkanus | China | 2014</text></g>
<g id="t161"><use href="#T" x="2037" y="3075.5" class="s a"/><text x="2055" y="3083">MK211375 | Rhinolophus_affinis | China | 2021</text></g>
<g id="t162"><use href="#T" x="2056" y="3094.3" class="s bl"/><text x="2074" y="3101.8">DQ071615 | bat | China | NA</text></g>
<g id="t163"><use href="#T" x="2070" y="3113.2" class="s bl"/><text x="2088" y="3120.7"><tspan class="q">KJ473815 | Rhinolophus_sinicus |</tspan> China | 2013</text></g>
<g id="t164"><use href="#T" x="2061" y="3132" class="s b"/><text x="2079" y="3139.5">KP886808 | Rhinolophus_ferrumequinum | China | 2013</text></g>
<g id="t165"><use href="#T" x="2061" y="3150.9" class="s b"/><text x="2079" y="3158.4">KP886809 | Rhinolophus_ferrumequinum | China | 2013</text></g>
<g id="t166"><use href="#T" x="2115" y="3169.8" class="s bl"/><text x="2133" y="3177.3">JX993988 | Chaerephon_plicata | China | 2011</text></g>
<g id="t167"><use href="#T" x="2146" y="3188.6" class="s al"/><text x="2164" y="3196.1">MZ081382 | Rhinolophus_stheno | China | 2020</text></g>
<g id="t168"><use href="#T" x="2103" y="3207.5" class="s a"/><text x="2121" y="3215" class="q">MZ081379 | Rhinolophus_sinicus | China | 2019</text></g>
<g id="t169"><use href="#T" x="2092" y="3226.3" class="s a"/><text x="2110" y="3233.8">MZ081377 | Rhinolophus_malayanus | China | 2020</text></g>
<g id="t170"><use href="#T" x="2097" y="3245.2" class="s bl"/><text x="2115" y="3252.7">KF569996 | Rhinolophus_affinis | China | 2011</text></g>
<g id="t171"><use href="#T" x="2061" y="3264.1" class="s bl"/><text x="2079" y="3271.6">KU973692 | bat | China | 2013</text></g>
<g id="t172"><use href="#T" x="2029" y="3282.9" class="s b"/><text x="2047" y="3290.4">MK211374 | Rhinolophus_sp. | China | 2021</text></g>
<g id="t173"><use href="#T" x="2077" y="3301.8" class="s bl"/><text x="2095" y="3309.3">KJ473813 | Rhinolophus_ferrumequinum | China | 2013</text></g>
<g id="t174"><use href="#T" x="2076" y="3320.6" class="s b"/><text x="2094" y="3328.1" class="q">KJ473812 | Rhinolophus_ferrumequinum | China | 2013</text></g>
<g id="t175"><use href="#T" x="2078" y="3339.5" class="s b"/><text x="2096" y="3347">DQ412042 | Rhinolophus_ferrumequinum | NA | NA</text></g>
<g id="t176"><use href="#T" x="2086" y="3358.4" class="s bl"/><text x="2104" y="3365.9">KJ473811 | Rhinolophus_ferrumequinum | China | 2012</text></g>
<g id="t177"><use href="#T" x="2031" y="3377.2" class="s b"/><text x="2049" y="3384.7">JX993987 | Rhinolophus_pusillus | China | 2021</text></g>
<g id="t178"><use href="#T" x="2027" y="3396.1" class="s b"/><text x="2045" y="3403.6">KJ473814 | Rhinolophus_sinicus | China | 2013</text></g>
<g id="t179"><use href="#T" x="2042" y="3414.9" class="s bl"/><text x="2060" y="3422.4">DQ412043 | <tspan class="q">Rhinolophus_macrotis</tspan> | NA | NA</text></g>
<g id="t180"><use href="#T" x="2187" y="3433.8" class="s bl"/><text x="2205" y="3441.3">GU190215 | Rhinolophus_blasii | Bulgaria | 2008</text></g>
<g id="t181"><use href="#C" x="2187" y="3452.7" class="s bl"/><text x="2205" y="3460.2" class="q">NC_014470 | Rhinolophus_blasii | Bulgaria | 2008</text></g>
<g id="t182"><use href="#T" x="2167" y="3471.5" class="s b"/><text x="2185" y="3479">MZ190137 | Rhinolophus_ferrumequinum | Russia | 2020</text></g>
<g id="t183"><use href="#T" x="2187" y="3490.4" class="s bl"/><text x="2205" y="3497.9">KY352407 | Rhinolophus_sp. | Kenya | 2021</text></g>
<g id="t184"><use href="#T" x="2197" y="3509.2" class="s bl"/><text x="2215" y="3516.7">MW719567 | Rhinolophus_hipposideros | United_Kingdom | 2020</text></g>
<g id="t185"><use href="#T" x="2178" y="3528.1" class="s bl"/><text x="2196" y="3535.6">MZ190138 | <tspan class="q">Rhinolophus_hipposideros</tspan> | Russia | 2020</text></g>
<g id="t186"><use href="#C" x="2037" y="3547" class="s b"/><text x="2055" y="3554.5">NC_045512 | Homo_sapiens | China | 2021</text></g>
<g id="t187"><use href="#T" x="2046" y="3565.8" class="s bl"/><text x="2064" y="3573.3" class="q">MN996532 | Rhinolophus_affinis | China | 2013</text></g>
<g id="t188"><use href="#T" x="1992" y="3584.7" class="s a"/><text x="2010" y="3592.2">MZ081381 | Rhinolophus_pusillus | China | 2020</text></g>
<g id="t189"><use href="#T" x="1987" y="3603.5" class="s b"/><text x="2005" y="3611">MG772933 | Rhinolophus_pusillus | China | 2021</text></g>
<g id="t190"><use href="#T" x="1989" y="3622.4" class="s b"/><text x="2007" y="3629.9">MG772934 <tspan class="q">| Rhinolophus_pusillus |</tspan> China | 2021</text></g>
<g id="t191"><use href="#T" x="2039" y="3641.3" class="s bx"/><text x="2057" y="3648.8">LC556375 | Rhinolophus_cornutus | Japan | 2013</text></g>
<g id="t192"><use href="#T" x="1978" y="3660.1" class="s a"/><text x="1996" y="3667.6">MZ081380 | Rhinolophus_stheno | China | 2020</text></g>
<g id="t193"><use href="#T" x="1978" y="3679" class="s a"/><text x="1996" y="3686.5" class="q">MZ081378 | Rhinolophus_malayanus | China | 2020</text></g>
<g id="t194"><use href="#T" x="1978" y="3697.8" class="s a"/><text x="1996" y="3705.3">MZ081376 | Rhinolophus_malayanus | China | 2020</text></g>
<g id="t195"><use href="#T" x="2022" y="3716.7" class="s hl"/><text x="2040" y="3724.2">KF636752 | Hipposideros_pratti | China | 2013</text></g>
<g id="t196"><use href="#T" x="2022" y="3735.6" class="s h"/><text x="2040" y="3743.1">NC_025217 | Hipposideros<tspan class="q">_pratti | China | 2013</tspan></text></g>
<g id="t197"><use href="#T" x="2285" y="3754.4" class="s rl"/><text x="2303" y="3761.9">EF065515 | bat | China | NA</text></g>
<g id="t198"><use href="#T" x="2285" y="3773.3" class="s r"/><text x="2303" y="3780.8">HM211098 | bat_BF_258I | China | 2005</text></g>
<g id="t199"><use href="#T" x="2285" y="3792.1" class="s r"/><text x="2303" y="3799.6">HM211100 | bat_BF_506I | China | 2006</text></g>
<g id="t200"><use href="#T" x="2367" y="3811" class="s rl"/><text x="2385" y="3818.5">EF065513 | bat | China | NA</text></g>
<g id="t201"><use href="#T" x="2367" y="3829.9" class="s rl"/><text x="2385" y="3837.4">NC_009021 | bat | China | NA</text></g>
<g id="t202"><use href="#T" x="2266" y="3848.7" class="s r"/><text x="2284" y="3856.2">EF065516 | <tspan class="q">bat</tspan> | China | NA</text></g>
<g id="t203"><use href="#T" x="2250" y="3867.6" class="s rl"/><text x="2268" y="3875.1">MG762674 | Rousettus_sp. | China | 2009</text></g>
<g id="t204"><use href="#T" x="2207" y="3886.4" class="s r"/><text x="2225" y="3893.9">HM211099 | bat_BF_258I | China | 2005</text></g>
<g id="t205"><use href="#T" x="2224" y="3905.3" class="s rl"/><text x="2242" y="3912.8" class="q">HM211101 | bat_BF_506I | China | 2006</text></g>
<g id="t206"><use href="#T" x="2199" y="3924.2" class="s rl"/><text x="2217" y="3931.7">EF065514 | bat | China | NA</text></g>
<g id="t207"><use href="#T" x="2173" y="3943" class="s r"/><text x="2191" y="3950.5">MK211379 | Rhinolophus_affinis | China | 2021</text></g>
<g id="t208"><use href="#T" x="2226" y="3961.9" class="s rl"/><text x="2244" y="3969.4">NC_030886 | Rousettus_leschenaulti | China | 2014</text></g>
<g id="t209"><use href="#T" x="2226" y="3980.7" class="s r"/><text x="2244" y="3988.2" class="q">KU762338 | Rousettus_leschenaulti | China | 2014</text></g>
<g id="t210"><use href="#T" x="2227" y="3999.6" class="s ro"/><text x="2245" y="4007.1">MT350598 | Eonycteris_spelaea | Singapore | 2021</text></g>
<g id="t211"><use href="#T" x="2135" y="4018.5" class="s rr"/><text x="2153" y="4026">MIZ178 | Rousettus_madagascariensis | Madagascar | 2018</text></g>
<g id="t212"><use href="#T" x="2125" y="4037.3" class="s rr"/><text x="2143" y="4044.8">MIZ240 | <tspan class="q">Rousettus_madagascariensis | Madagascar</tspan> | 2018</text></g>
<g id="t213"><use href="#T" x="2174" y="4056.2" class="s ro"/><text x="2192" y="4063.7">AMB130 | Pteropus_rufus | Madagascar | 2018</text></g>
<g id="t214"><use href="#T" x="1359" y="4075" class="s d"/><text x="1377" y="4082.5">NC_009019 | bat | China | NA</text></g>
<g id="t215"><use href="#T" x="1359" y="4093.9" class="s d"/><text x="1377" y="4101.4" class="q">EF065505 | bat | China | NA</text></g>
<g id="t216"><use href="#T" x="1359" y="4112.8" class="s d"/><text x="1377" y="4120.3">EF065507 | bat | China | NA</text></g>
<g id="t217"><use href="#T" x="1359" y="4131.6" class="s d"/><text x="1377" y="4139.1">EF065506 | bat | China | NA</text></g>
<g id="t218"><use href="#T" x="1362" y="4150.5" class="s d"/><text x="1380" y="4158">EF065508 | bat | China | NA</text></g>
<g id="t219"><use href="#T" x="1370" y="4169.3" class="s dl"/><text x="1388" y="4176.8">MH002339 | NA | China | 2014</text></g>
<g id="t220"><use href="#T" x="1359" y="4188.2" class="s d"/><text x="1377" y="4195.7"><tspan class="q">MW218395 | Tylonycteris_pachypus | Hong_Kong</tspan> | 2010</text></g>
<g id="t221"><use href="#T" x="1354" y="4207.1" class="s dl"/><text x="1372" y="4214.6">MN611519 | Tylonycteris_pachypus | China | 2021</text></g>
<g id="t222"><use href="#C" x="1346" y="4225.9" class="s d"/><text x="1364" y="4233.4">DQ648794 | NA | NA | NA</text></g>
<g id="t223"><use href="#T" x="1347" y="4244.8" class="s d"/><text x="1365" y="4252.3">MH002338 | NA | China | 2012</text></g>
<g id="t224"><use href="#T" x="1343" y="4263.6" class="s d"/><text x="1361" y="4271.1" class="q">MH002337 | NA | China | 2012</text></g>
<g id="t225"><use href="#T" x="1337" y="4282.5" class="s dl"/><text x="1355" y="4290">KJ473822 | Tylonycteris_pachypus | China | 2012</text></g>
<g id="t226"><use href="#T" x="1297" y="4301.4" class="s d"/><text x="1315" y="4308.9">EF065511 | bat | China | NA</text></g>
<g id="t227"><use href="#T" x="1297" y="4320.2" class="s d"/><text x="1315" y="4327.7" class="q">EF065512 | bat | China | NA</text></g>
<g id="t228"><use href="#T" x="1297" y="4339.1" class="s d"/><text x="1315" y="4346.6">EF065510 | bat | China | NA</text></g>
<g id="t229"><use href="#T" x="1298" y="4357.9" class="s d"/><text x="1316" y="4365.4">MH002341 | NA | China | 2014</text></g>
<g id="t230"><use href="#T" x="1300" y="4376.8" class="s d"/><text x="1318" y="4384.3">KJ473820 | Pipistrellus_abramus | China | 2013</text></g>
<g id="t231"><use href="#T" x="1301" y="4395.7" class="s d"/><text x="1319" y="4403.2">MH002342 | NA | China | 2013</text></g>
<g id="t232"><use href="#T" x="1303" y="4414.5" class="s d"/><text x="1321" y="4422">MH002340 | NA | China | 2014</text></g>
<g id="t233"><use href="#T" x="1292" y="4433.4" class="s d"/><text x="1310" y="4440.9">MN611520 | Pipistrellus_abramus | China | 2021</text></g>
<g id="t234"><use href="#T" x="1278" y="4452.2" class="s d"/><text x="1296" y="4459.7">EF065509 | bat | China | NA</text></g>
<g id="t235"><use href="#T" x="1278" y="4471.1" class="s dl"/><text x="1296" y="4478.6" class="q">NC_009020 | bat | China | NA</text></g>
<g id="t236"><use href="#T" x="1265" y="4490" class="s d"/><text x="1283" y="4497.5">KX442564 | Hypsugo_pulveratus | China | 2013</text></g>
<g id="t237"><use href="#T" x="1267" y="4508.8" class="s dl"/><text x="1285" y="4516.3" class="q">KX442565 | Hypsugo_pulveratus | China | 2014</text></g>
<g id="t238"><use href="#T" x="1230" y="4527.7" class="s dl"/><text x="1248" y="4535.2">KJ473821 | Vespertilio_superans | China | NA</text></g>
<g id="t239"><use href="#T" x="1198" y="4546.5" class="s d"/><text x="1216" y="4554">MG596803 | Pipistrellus_kuhlii | Italy | 2011</text></g>
<g id="t240"><use href="#T" x="1196" y="4565.4" class="s d"/><text x="1214" y="4572.9">MG596802 | Hypsugo_savii | Italy | 2011</text></g>
<g id="t241"><use href="#T" x="1245" y="4584.3" class="s dl"/><text x="1263" y="4591.8">MF593268 | Neoromicia_capensis | South_Africa | 2015</text></g>
<g id="t242"><use href="#C" x="1247" y="4603.1" class="s dl"/><text x="1265" y="4610.6">KC869678 | Neoromicia_capensis | South_Africa | 2011</text></g>
<g id="t243"><use href="#C" x="1221" y="4622" class="s d"/><text x="1239" y="4629.5">NC_019843 | Homo_sapiens | NA | 2012</text></g>
<g id="t244"><use href="#C" x="1221" y="4640.8" class="s dl"/><text x="1239" y="4648.3"><tspan class="q">NC_038294 | Homo_sapiens | United</tspan>_Kingdom | 2012</text></g>
<g id="t245"><use href="#C" x="1076" y="4659.7" class="s d"/><text x="1094" y="4667.2">NC_039207 | Erinaceus_europaeus | Germany | 2012</text></g>
<g id="t246"><use href="#C" x="2145" y="4678.6" class="s k"/><text x="2163" y="4686.1">NC_010800 | turkey | Canada | NA</text></g>
</g>
<g id="highlight">
<rect class="hi" x="2143" y="3996" width="605" height="44" rx="10"/>
<rect class="hi" x="2133" y="4015" width="602" height="44" rx="10"/>
<rect class="hi" x="2148" y="4034" width="520" height="44" rx="10"/>
</g>
</g>
</svg>
